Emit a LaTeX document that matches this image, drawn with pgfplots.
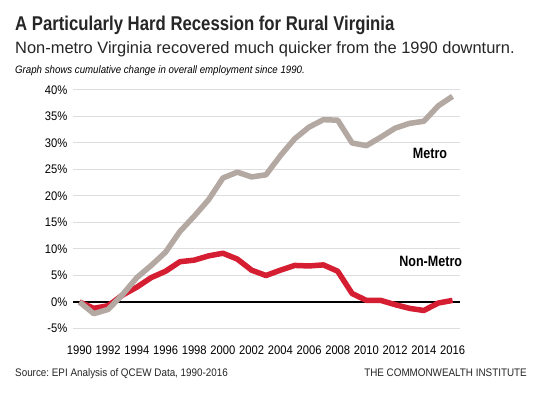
\documentclass[border=0pt]{standalone}
\usepackage{pgfplots}
\pgfplotsset{compat=1.18}
\usepackage{fontspec}
\setmainfont{Liberation Sans}
\newfontfamily\narrow[FakeStretch=0.84]{Liberation Sans}
\newfontfamily\semi[FakeStretch=0.9]{Liberation Sans}
\definecolor{metrogray}{RGB}{180,168,162}
\definecolor{nonred}{RGB}{214,30,50}
\definecolor{gridgray}{RGB}{222,222,222}
\frenchspacing
\begin{document}
\begin{tikzpicture}
\path[fill=white,use as bounding box] (0,0) rectangle (540bp,393bp);
\begin{axis}[
  at={(73bp,64.5bp)}, anchor=south west,
  scale only axis, width=387bp, height=238.5bp,
  xmin=1989.55, xmax=2016.52, ymin=-5, ymax=40,
  axis line style={draw=none},
  tick style={draw=none},
  xtick={1990,1992,...,2016},
  xticklabels={1990,1992,1994,1996,1998,2000,2002,2004,2006,2008,2010,2012,2014,2016},
  ytick={-5,0,5,10,15,20,25,30,35,40},
  yticklabels={-5\%,0\%,5\%,10\%,15\%,20\%,25\%,30\%,35\%,40\%},
  xticklabel style={font=\semi\fontsize{12.5}{15}\selectfont, anchor=base, yshift=-26.5bp, inner sep=0pt},
  yticklabel style={font=\semi\fontsize{12.5}{15}\selectfont, anchor=east, xshift=-5.5bp, inner sep=0pt},
  ymajorgrids, grid style={gridgray, line width=1bp},
  extra y ticks={0}, extra y tick labels={},
  extra y tick style={grid style={black, line width=1.2bp}},
  clip=false,
]
\addplot[nonred, line width=5.5bp, line join=round] coordinates {
(1990,0) (1991,-1.2) (1992,-0.7) (1993,1.3) (1994,2.8) (1995,4.6) (1996,5.8) (1997,7.6) (1998,7.9) (1999,8.7) (2000,9.2) (2001,8.1) (2002,6.0) (2003,5.0) (2004,6.0) (2005,6.9) (2006,6.8) (2007,7.0) (2008,5.8) (2009,1.6) (2010,0.3) (2011,0.3) (2012,-0.5) (2013,-1.2) (2014,-1.6) (2015,-0.2) (2016,0.3)
};
\addplot[metrogray, line width=5.5bp, line join=round] coordinates {
(1990,0) (1991,-2.2) (1992,-1.4) (1993,1.4) (1994,4.6) (1995,6.9) (1996,9.4) (1997,13.3) (1998,16.2) (1999,19.3) (2000,23.4) (2001,24.5) (2002,23.6) (2003,24.0) (2004,27.6) (2005,30.8) (2006,33.0) (2007,34.4) (2008,34.3) (2009,30.0) (2010,29.5) (2011,31.1) (2012,32.8) (2013,33.7) (2014,34.1) (2015,37.0) (2016,38.8)
};
\end{axis}
\node[anchor=center, font=\narrow\bfseries\fontsize{15}{18}\selectfont, inner sep=0pt] at (430bp,240bp) {Metro};
\node[anchor=center, font=\narrow\bfseries\fontsize{15}{18}\selectfont, inner sep=0pt] at (430.7bp,131.3bp) {Non-Metro};
\node[anchor=base west, inner sep=0pt, font=\narrow\bfseries\fontsize{20}{24}\selectfont, text=black!85] at (15bp,362bp) {A Particularly Hard Recession for Rural Virginia};
\node[anchor=base west, inner sep=0pt, font=\fontsize{16.5}{20}\selectfont, text=black!85] at (15bp,339bp) {Non-metro Virginia recovered much quicker from the 1990 downturn.};
\node[anchor=base west, inner sep=0pt, font=\semi\itshape\fontsize{10.8}{13}\selectfont] at (15bp,319bp) {Graph shows cumulative change in overall employment since 1990.};
\node[anchor=base west, inner sep=0pt, font=\semi\fontsize{11}{13}\selectfont, text=black!85] at (15bp,17bp) {Source: EPI Analysis of QCEW Data, 1990-2016};
\node[anchor=base east, inner sep=0pt, font=\semi\fontsize{11}{13}\selectfont, text=black!85] at (527bp,17bp) {THE COMMONWEALTH INSTITUTE};
\end{tikzpicture}
\end{document}
